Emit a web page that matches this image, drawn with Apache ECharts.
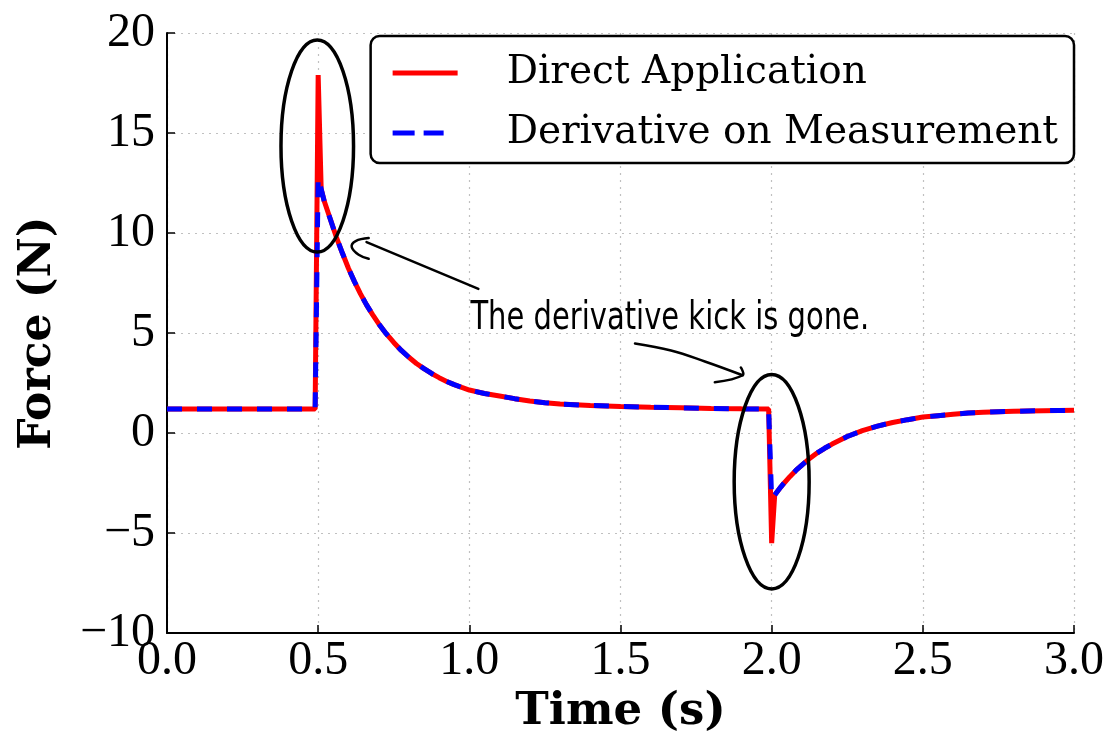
<!DOCTYPE html>
<html>
<head>
<meta charset="utf-8">
<script src="https://cdn.jsdelivr.net/npm/echarts@6/dist/echarts.min.js"></script>
<style>
  html, body { margin: 0; background: #fff; }
  #chart { width: 1107px; height: 740px; }
</style>
</head>
<body>
<div id="chart"></div>
<script>
// time samples (s)
var timeS = [0, 0.49, 0.50, 0.51, 0.52, 0.54, 0.56, 0.58, 0.60, 0.62, 0.64, 0.66, 0.68, 0.70,
  0.725, 0.75, 0.775, 0.80, 0.825, 0.85, 0.875, 0.90, 0.925, 0.95, 0.975, 1.00, 1.05, 1.10,
  1.15, 1.20, 1.25, 1.30, 1.40, 1.50, 1.60, 1.70, 1.80, 1.90, 1.99, 2.00, 2.01, 2.02, 2.03,
  2.04, 2.06, 2.08, 2.10, 2.12, 2.15, 2.175, 2.20, 2.25, 2.30, 2.35, 2.40, 2.45, 2.50, 2.55,
  2.60, 2.65, 2.70, 2.75, 2.80, 2.90, 3.00];
// force (N)
var directApp = [1.2, 1.2, 17.9, 12.2, 11.6, 10.7, 9.8, 9.0, 8.24, 7.57, 6.96, 6.41, 5.92, 5.47,
  4.97, 4.53, 4.13, 3.79, 3.48, 3.22, 2.98, 2.77, 2.58, 2.42, 2.28, 2.15, 1.98, 1.85,
  1.72, 1.6, 1.52, 1.45, 1.38, 1.33, 1.29, 1.26, 1.23, 1.21, 1.2, -5.5, -3.1, -2.9, -2.7,
  -2.52, -2.18, -1.87, -1.6, -1.34, -1.0, -0.76, -0.55, -0.17, 0.12, 0.35, 0.53, 0.67, 0.8, 0.87,
  0.94, 1.0, 1.04, 1.07, 1.09, 1.12, 1.14];
var derivMeas = [1.2, 1.2, 12.8, 12.2, 11.6, 10.7, 9.8, 9.0, 8.24, 7.57, 6.96, 6.41, 5.92, 5.47,
  4.97, 4.53, 4.13, 3.79, 3.48, 3.22, 2.98, 2.77, 2.58, 2.42, 2.28, 2.15, 1.98, 1.85,
  1.72, 1.6, 1.52, 1.45, 1.38, 1.33, 1.29, 1.26, 1.23, 1.21, 1.2, -3.3, -3.1, -2.9, -2.7,
  -2.52, -2.18, -1.87, -1.6, -1.34, -1.0, -0.76, -0.55, -0.17, 0.12, 0.35, 0.53, 0.67, 0.8, 0.87,
  0.94, 1.0, 1.04, 1.07, 1.09, 1.12, 1.14];

var seriesNames = ['Direct Application', 'Derivative on Measurement'];

// annotations, in data coordinates [t, F]
var ellipses = [
  { c: [0.497, 14.35], r: [0.12, 5.3] },
  { c: [2.0, -2.43], r: [0.124, 5.36] }
];
var arrow1 = [[1.030, 7.21], [0.660, 9.55]];
var arrow1Head = [[0.667, 9.75], [0.624, 9.60], [0.611, 9.30], [0.634, 8.91], [0.667, 8.71]];
var arrow2 = [[1.548, 4.48], [1.667, 4.13], [1.779, 3.58], [1.904, 2.89]];
var arrow2Head = [[1.898, 3.28], [1.904, 2.89], [1.812, 2.54]];
var noteText = 'The derivative kick is gone.';
var notePos = [1.663, 5.72];

var serif = '"Liberation Serif", "DejaVu Serif", serif';
var boldSerif = '"DejaVu Serif", serif';

function pairs(xs, ys) {
  return xs.map(function (x, i) { return [x, ys[i]]; });
}
function fmtNum(v, d) {
  var s = Math.abs(v).toFixed(d);
  return v < 0 ? '\u2212' + s : s;
}

var chart = echarts.init(document.getElementById('chart'));

var gridLine = { show: true, lineStyle: { color: '#c0c0c0', width: 1.2, type: [2, 5] } };

chart.setOption({
  animation: false,
  backgroundColor: '#fff',
  grid: { left: 167, right: 30, top: 33, bottom: 104 },
  legend: {
    right: 33,
    top: 36,
    orient: 'vertical',
    backgroundColor: '#fff',
    borderColor: '#000',
    borderWidth: 2.5,
    borderRadius: 9,
    padding: [13, 16, 6, 22],
    itemGap: 12,
    itemWidth: 65,
    itemHeight: 5,
    data: [
      { name: seriesNames[0], icon: 'path://M0 0H65V5H0Z' },
      { name: seriesNames[1], icon: 'path://M0 0H22V5H0ZM31 0H51V5H31ZM65 0H65V5H65Z' }
    ],
    textStyle: {
      fontFamily: boldSerif,
      fontSize: 39,
      lineHeight: 48,
      color: '#000',
      padding: [0, 0, 0, 44]
    }
  },
  xAxis: {
    type: 'value',
    min: 0,
    max: 3,
    interval: 0.5,
    name: 'Time (s)',
    nameLocation: 'middle',
    nameGap: 51,
    nameTextStyle: { fontFamily: boldSerif, fontWeight: 'bold', fontSize: 45, color: '#000' },
    axisLine: { show: true, onZero: false, lineStyle: { color: '#000', width: 2 } },
    axisTick: { show: true, inside: true, length: 8, lineStyle: { color: '#000', width: 1.5 } },
    axisLabel: {
      margin: 4,
      fontFamily: serif,
      fontSize: 48,
      color: '#000',
      formatter: function (v) { return fmtNum(v, 1); }
    },
    splitLine: gridLine
  },
  yAxis: {
    type: 'value',
    min: -10,
    max: 20,
    interval: 5,
    name: 'Force (N)',
    nameLocation: 'middle',
    nameGap: 106,
    nameTextStyle: { fontFamily: boldSerif, fontWeight: 'bold', fontSize: 44, color: '#000' },
    axisLine: { show: true, onZero: false, lineStyle: { color: '#000', width: 2 } },
    axisTick: { show: true, inside: true, length: 8, lineStyle: { color: '#000', width: 1.5 } },
    axisLabel: {
      margin: 12,
      fontFamily: serif,
      fontSize: 48,
      color: '#000',
      formatter: function (v) { return fmtNum(v, 0); }
    },
    splitLine: gridLine
  },
  series: [
    {
      name: seriesNames[0],
      type: 'line',
      data: pairs(timeS, directApp),
      symbol: 'none',
      color: '#ff0000',
      lineStyle: { color: '#ff0000', width: 5 },
      z: 2
    },
    {
      name: seriesNames[1],
      type: 'line',
      data: pairs(timeS, derivMeas),
      symbol: 'none',
      color: '#0000ff',
      lineStyle: { color: '#0000ff', width: 5, type: [15, 15] },
      z: 3
    }
  ]
});

function px(p) {
  return chart.convertToPixel({ gridIndex: 0 }, p);
}
function pts(list) {
  return list.map(px);
}

var ink = { stroke: '#000', lineWidth: 3.5, fill: null, lineCap: 'round', lineJoin: 'round' };
var graphics = [];
ellipses.forEach(function (e) {
  var c = px(e.c);
  var rx = px([e.c[0] + e.r[0], e.c[1]])[0] - c[0];
  var ry = c[1] - px([e.c[0], e.c[1] + e.r[1]])[1];
  graphics.push({
    type: 'ellipse',
    shape: { cx: c[0], cy: c[1], rx: rx, ry: ry },
    style: ink,
    z: 10
  });
});
[arrow1, arrow1Head, arrow2, arrow2Head].forEach(function (line) {
  graphics.push({
    type: 'polyline',
    shape: { points: pts(line), smooth: 0.4 },
    style: { stroke: '#000', lineWidth: 2.5, fill: null, lineCap: 'round', lineJoin: 'round' },
    z: 10
  });
});
var np = px(notePos);
graphics.push({
  type: 'text',
  x: np[0],
  y: np[1],
  scaleY: 1.35,
  style: {
    x: 0, y: 0,
    text: noteText,
    font: '29px "DejaVu Sans", sans-serif',
    fill: '#000',
    align: 'center',
    verticalAlign: 'middle'
  },
  z: 10
});
chart.setOption({ graphic: graphics });
</script>
</body>
</html>
